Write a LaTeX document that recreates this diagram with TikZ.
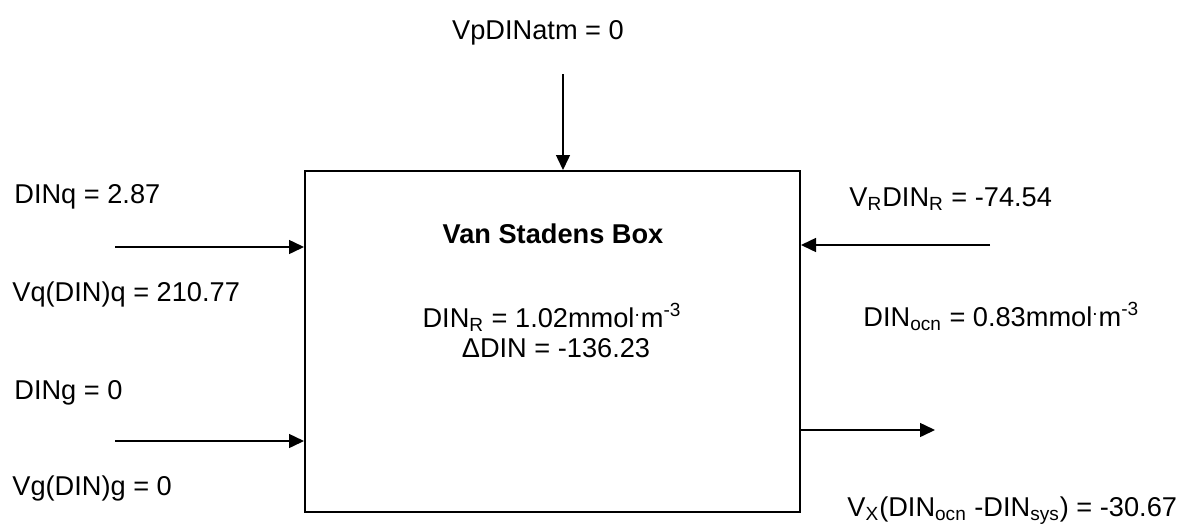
\documentclass[tikz,border=0pt]{standalone}
\usepackage{fontspec}
\setmainfont{Liberation Sans}
\usetikzlibrary{arrows.meta}
\tikzset{
  lbl/.style={anchor=base west, inner sep=0pt, font=\fontsize{13.6}{16.3}\selectfont},
  flow/.style={line width=0.75pt, -{Triangle[length=7.5pt,width=7pt]}}
}
\begin{document}
\begin{tikzpicture}[x=0.5pt,y=-0.5pt]
    \useasboundingbox (0,0) rectangle (1188,525);
    % Box
    \node[draw, line width=1pt, minimum width=247.5pt, minimum height=170.5pt, inner sep=0pt] (box) at (552.5,341.5) {};
    \node[lbl, anchor=base, font=\fontsize{13.6}{16.3}\selectfont\bfseries] (title) at (553,243) {Van Stadens Box};
    \node[lbl, anchor=base] (dinr) at (552,327) {DIN\textsubscript{R} = 1.02mmol\textsuperscript{.}m\textsuperscript{-3}};
    \node[lbl, anchor=base] (ddin) at (556,357) {ΔDIN = -136.23};
    % Atmosphere
    \node[lbl, anchor=base] (atm) at (538,39) {VpDINatm = 0};
    \coordinate (atmtail) at (563,74);
    \draw[flow] (atmtail) -- (atmtail |- box.north);
    % River q
    \node[lbl] (dinq) at (14,203) {DINq = 2.87};
    \node[lbl] (vq) at (12,301) {Vq(DIN)q = 210.77};
    \coordinate (qtail) at (115,247);
    \draw[flow] (qtail) -- (qtail -| box.west);
    % Groundwater g
    \node[lbl] (ding) at (14,399) {DINg = 0};
    \node[lbl] (vg) at (12,495) {Vg(DIN)g = 0};
    \coordinate (gtail) at (115,441);
    \draw[flow] (gtail) -- (gtail -| box.west);
    % Residual
    \node[lbl] (vr) at (849,206) {V\textsubscript{R}DIN\textsubscript{R} = -74.54};
    \coordinate (rtail) at (990,245);
    \draw[flow] (rtail) -- (rtail -| box.east);
    % Exchange with ocean
    \node[lbl] (ocn) at (863,326) {DIN\textsubscript{ocn} = 0.83mmol\textsuperscript{.}m\textsuperscript{-3}};
    \coordinate (xhead) at (935,430);
    \draw[flow] (box.east |- xhead) -- (xhead);
    \node[lbl] (vx) at (847,516) {V\textsubscript{X}(DIN\textsubscript{ocn} -DIN\textsubscript{sys}) = -30.67};
\end{tikzpicture}
\end{document}
